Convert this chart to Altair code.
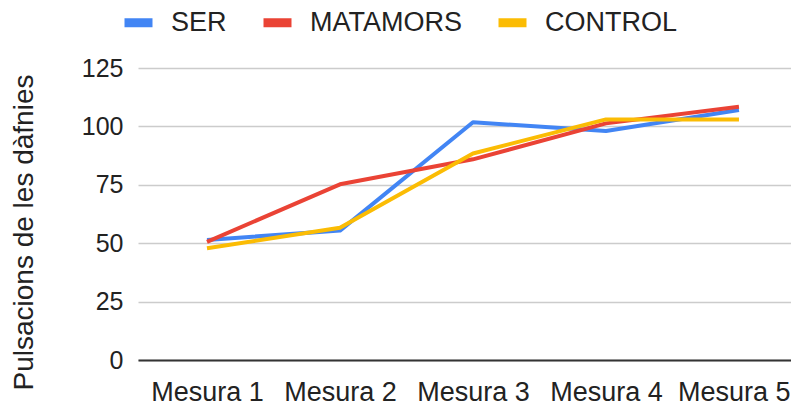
import altair as alt
import pandas as pd

categories = ["Mesura 1", "Mesura 2", "Mesura 3", "Mesura 4", "Mesura 5"]
series = ["SER", "MATAMORS", "CONTROL"]
ser = [51.4, 55.4, 101.8, 98.0, 107.0]
matamors = [50.6, 75.2, 85.9, 101.3, 108.4]
control = [47.8, 56.6, 88.4, 103.0, 103.0]
colors = ["#4285F4", "#EA4335", "#FBBC04"]
y_ticks = [0, 25, 50, 75, 100, 125]

rows = []
for name, vals in zip(series, [ser, matamors, control]):
    for i, (c, v) in enumerate(zip(categories, vals)):
        rows.append({"Mesura": c, "Serie": name, "Valor": v, "order": series.index(name)})
df = pd.DataFrame(rows)

FONT = "Liberation Sans"

chart = alt.Chart(df).mark_line(strokeWidth=4, strokeJoin="round").encode(
    x=alt.X("Mesura:N", sort=categories,
            scale=alt.Scale(type="point", padding=0.455, align=0.57),
            axis=alt.Axis(title=None, labelAngle=0, ticks=False, grid=False,
                          domain=True, domainColor="#333333", domainWidth=2,
                          labelFontSize=27, labelFont=FONT, labelColor="#222222",
                          labelPadding=19, labelFlush=60, labelFlushOffset=51)),
    y=alt.Y("Valor:Q", scale=alt.Scale(domain=[0, 125], nice=False),
            axis=alt.Axis(values=y_ticks, title="Pulsacions de les dàfnies",
                          ticks=False, domain=False, grid=True,
                          gridColor="#cccccc", gridWidth=1.3,
                          labelFontSize=25, labelFont=FONT, labelColor="#222222",
                          labelPadding=15,
                          titleFont=FONT, titleFontSize=28, titleFontWeight="normal",
                          titleColor="#222222", titleBaseline="alphabetic",
                          titleX=-106, titleY=164, titleAngle=-90)),
    color=alt.Color("Serie:N", sort=series,
                    scale=alt.Scale(domain=series, range=colors),
                    legend=alt.Legend(title=None, orient="none", direction="horizontal",
                                      legendX=-18, legendY=-64,
                                      symbolType="stroke", symbolStrokeWidth=9,
                                      symbolSize=784, labelFontSize=27, labelFont=FONT,
                                      labelColor="#222222", labelOffset=14,
                                      columnPadding=18)),
    order=alt.Order("order:Q"),
).properties(
    width=653, height=292,
    padding={"left": 130, "top": 60, "right": 0, "bottom": 45},
    autosize=alt.AutoSizeParams(type="none"),
).configure_view(stroke=None)

chart.save("out.html", embed_options={"renderer": "svg", "actions": False})
